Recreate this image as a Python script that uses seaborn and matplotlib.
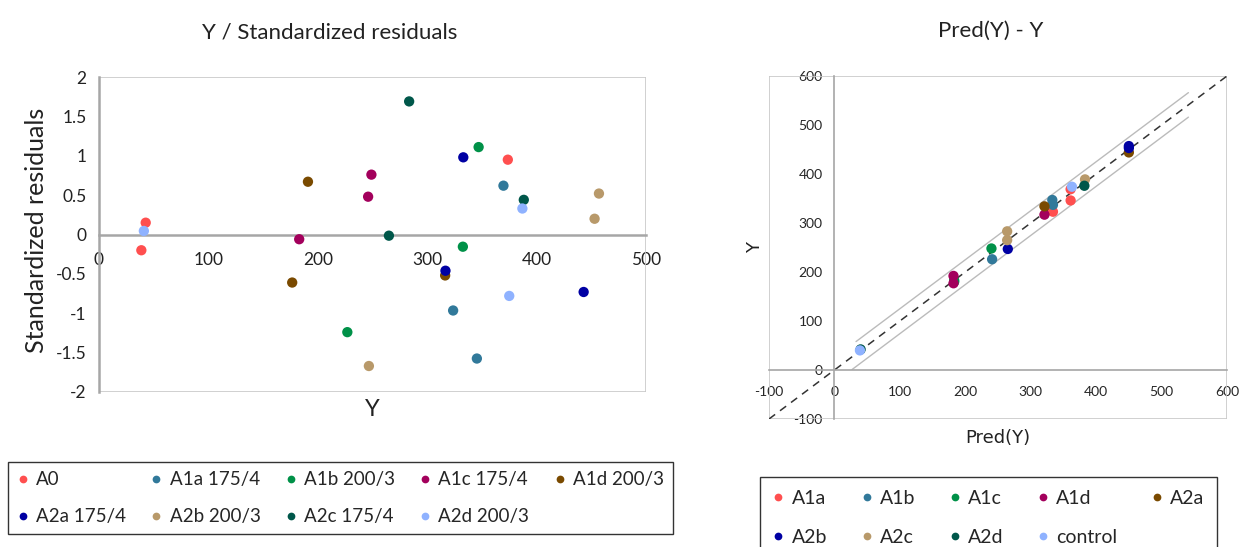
import matplotlib
matplotlib.use('Agg')
import matplotlib.pyplot as plt
from matplotlib.patches import Rectangle
import pandas as pd
import seaborn as sns

# colori delle serie (stesso ordine nei due grafici)
colors = ['#FF4F4F', '#31799A', '#009148', '#A3005C', '#7A4A00',
          '#0000A3', '#B8996A', '#00574A', '#8FB2FF']

# grafico a sinistra: Y / residui standardizzati
res_names = ['A0', 'A1a 175/4', 'A1b 200/3', 'A1c 175/4', 'A1d 200/3',
             'A2a 175/4', 'A2b 200/3', 'A2c 175/4', 'A2d 200/3']
res_group = ['A0', 'A0', 'A0',
             'A1a 175/4', 'A1a 175/4', 'A1a 175/4',
             'A1b 200/3', 'A1b 200/3', 'A1b 200/3',
             'A1c 175/4', 'A1c 175/4', 'A1c 175/4',
             'A1d 200/3', 'A1d 200/3', 'A1d 200/3',
             'A2a 175/4', 'A2a 175/4', 'A2a 175/4',
             'A2b 200/3', 'A2b 200/3', 'A2b 200/3',
             'A2c 175/4', 'A2c 175/4', 'A2c 175/4',
             'A2d 200/3', 'A2d 200/3', 'A2d 200/3']
res_y = [38.7, 42.7, 373.7,
         369.7, 323.7, 345.4,
         347, 332.6, 227,
         249, 246, 183,
         191, 176.6, 316.4,
         333, 316.7, 443,
         457, 453, 246.7,
         283.5, 388.3, 265,
         41, 387, 375]
res_std = [-0.20, 0.15, 0.95,
           0.62, -0.965, -1.575,
           1.11, -0.155, -1.24,
           0.76, 0.48, -0.06,
           0.67, -0.61, -0.52,
           0.98, -0.46, -0.73,
           0.52, 0.20, -1.67,
           1.69, 0.44, -0.015,
           0.045, 0.33, -0.78]

# grafico a destra: Pred(Y) - Y
pred_names = ['A1a', 'A1b', 'A1c', 'A1d', 'A2a', 'A2b', 'A2c', 'A2d', 'control']
pred_group = ['A1a', 'A1a', 'A1a',
              'A1b', 'A1b', 'A1b',
              'A1c', 'A1c', 'A1c',
              'A1d', 'A1d', 'A1d',
              'A2a', 'A2a',
              'A2b', 'A2b', 'A2b',
              'A2c', 'A2c', 'A2c',
              'A2d', 'A2d',
              'control', 'control']
pred_x = [334, 361, 361,
          241, 333, 334,
          240, 183, 183,
          182, 182, 321,
          321, 450,
          265, 450, 450,
          264, 264, 383,
          382, 40,
          39, 363]
pred_y = [323, 346, 369,
          226, 347, 337,
          248, 183, 180,
          192, 177, 317,
          334, 444,
          247, 457, 453,
          283, 265, 389,
          376, 42,
          40, 374]

# diagonale e bande
diag_x = [-100, 600]
diag_y = [-100, 600]
upper_x = [33, 541]
upper_y = [58, 566]
lower_x = [27, 541]
lower_y = [1, 516]

# etichette dei tick
res_xticks = [0, 100, 200, 300, 400, 500]
res_yticks = [-2, -1.5, -1, -0.5, 0, 0.5, 1, 1.5, 2]
pred_ticks = [-100, 0, 100, 200, 300, 400, 500, 600]

df_res = pd.DataFrame({'group': res_group, 'Y': res_y, 'res': res_std})
df_pred = pd.DataFrame({'group': pred_group, 'pred': pred_x, 'Y': pred_y})

sns.set_style('white')
plt.rcParams['font.family'] = ['Lato', 'DejaVu Sans']
plt.rcParams['axes.unicode_minus'] = False

axis_gray = '#A6A6A6'
frame_gray = '#C8C8C8'
txt = '#222222'

# ordine per riempire la legenda per righe (5 colonne, 2 righe)
row_order = [0, 5, 1, 6, 2, 7, 3, 8, 4]

fig = plt.figure(figsize=(12.4, 5.47), dpi=100)

# ---- grafico a sinistra ----
ax1 = fig.add_axes([99 / 1240, 1 - 392 / 547, 547 / 1240, 315 / 547])
sns.scatterplot(data=df_res, x='Y', y='res', hue='group', hue_order=res_names,
                palette=colors, s=55, edgecolor='none', ax=ax1, zorder=3)
h1, l1 = ax1.get_legend_handles_labels()
ax1.get_legend().remove()

ax1.set_xlim(0, 500)
ax1.set_ylim(-2, 2)
ax1.set_xticks(res_xticks, [str(v) for v in res_xticks])
ax1.set_yticks(res_yticks, ['%g' % v for v in res_yticks])
for s in ['top', 'right']:
    ax1.spines[s].set_visible(False)
ax1.spines['bottom'].set_position(('data', 0))
for s in ['left', 'bottom']:
    ax1.spines[s].set_color(axis_gray)
    ax1.spines[s].set_linewidth(1.8)
ax1.add_patch(Rectangle((0, 0), 1, 1, transform=ax1.transAxes, fill=False,
                        ec=frame_gray, lw=1.2, zorder=1))
ax1.tick_params(axis='x', direction='inout', length=9, width=1.2, color=axis_gray,
                labelsize=12.5, pad=8, labelcolor=txt)
ax1.tick_params(axis='y', direction='out', length=5, width=1.2, color=axis_gray,
                labelsize=12.5, pad=4, labelcolor=txt)
ax1.set_xlabel('Y', fontsize=17, color=txt)
ax1.xaxis.set_label_coords(0.5, -0.022)
ax1.set_ylabel('Standardized residuals', fontsize=18, color=txt)
ax1.yaxis.set_label_coords(-0.094, 0.514)
ax1.set_title('Y / Standardized residuals', fontsize=16, pad=28, color=txt, x=0.422)

# ---- grafico a destra ----
ax2 = fig.add_axes([769 / 1240, 1 - 419 / 547, 458 / 1240, 343 / 547])
ax2.plot(upper_x, upper_y, color='#BBBBBB', lw=1, zorder=1)
ax2.plot(lower_x, lower_y, color='#BBBBBB', lw=1, zorder=1)
ax2.plot(diag_x, diag_y, color='#333333', lw=1.1, ls=(0, (5, 4)), zorder=2)
sns.scatterplot(data=df_pred, x='pred', y='Y', hue='group', hue_order=pred_names,
                palette=colors, s=55, edgecolor='none', ax=ax2, zorder=3)
h2, l2 = ax2.get_legend_handles_labels()
ax2.get_legend().remove()

ax2.set_xlim(-100, 600)
ax2.set_ylim(-100, 600)
ax2.set_xticks(pred_ticks, [str(v) for v in pred_ticks],
               fontfamily='DejaVu Sans', fontsize=10, color=txt)
ax2.set_yticks(pred_ticks, [str(v) for v in pred_ticks],
               fontfamily='DejaVu Sans', fontsize=10, color=txt)
for s in ['top', 'right']:
    ax2.spines[s].set_visible(False)
ax2.spines['left'].set_position(('data', 0))
ax2.spines['bottom'].set_position(('data', 0))
for s in ['left', 'bottom']:
    ax2.spines[s].set_color(axis_gray)
    ax2.spines[s].set_linewidth(1.2)
ax2.add_patch(Rectangle((0, 0), 1, 1, transform=ax2.transAxes, fill=False,
                        ec=frame_gray, lw=1.2, zorder=1))
ax2.tick_params(axis='both', direction='inout', length=9, width=1, color=axis_gray)
ax2.tick_params(axis='x', pad=7)
ax2.tick_params(axis='y', pad=4)
ax2.set_xlabel('Pred(Y)', fontsize=13, family='DejaVu Sans', color=txt)
ax2.xaxis.set_label_coords(0.5, -0.03)
ax2.set_ylabel('Y', fontsize=13, family='DejaVu Sans', color=txt)
ax2.yaxis.set_label_coords(-0.01, 0.5)
ax2.set_title('Pred(Y) - Y', fontsize=16, pad=28, color=txt, x=0.483)

# ---- legende ----
leg1 = fig.legend([h1[i] for i in row_order], [l1[i] for i in row_order],
                  ncol=5, loc='upper left', mode='expand',
                  bbox_to_anchor=(8 / 1240, 1 - 462 / 547, 665 / 1240, 0),
                  borderaxespad=0, fontsize=13.5, markerscale=0.75,
                  handlelength=0.6, handletextpad=0.4,
                  labelspacing=1.05, borderpad=0.5, fancybox=False,
                  edgecolor='#333333', framealpha=1)
leg1.get_frame().set_linewidth(1)
leg2 = fig.legend([h2[i] for i in row_order], [l2[i] for i in row_order],
                  ncol=5, loc='upper left', mode='expand',
                  bbox_to_anchor=(760 / 1240, 1 - 477 / 547, 457 / 1240, 0),
                  borderaxespad=0, fontsize=14, markerscale=0.75,
                  handlelength=0.6, handletextpad=0.4,
                  labelspacing=1.15, borderpad=0.65, fancybox=False,
                  edgecolor='#333333', framealpha=1)
leg2.get_frame().set_linewidth(1)

fig.savefig('out.png', dpi=100)
